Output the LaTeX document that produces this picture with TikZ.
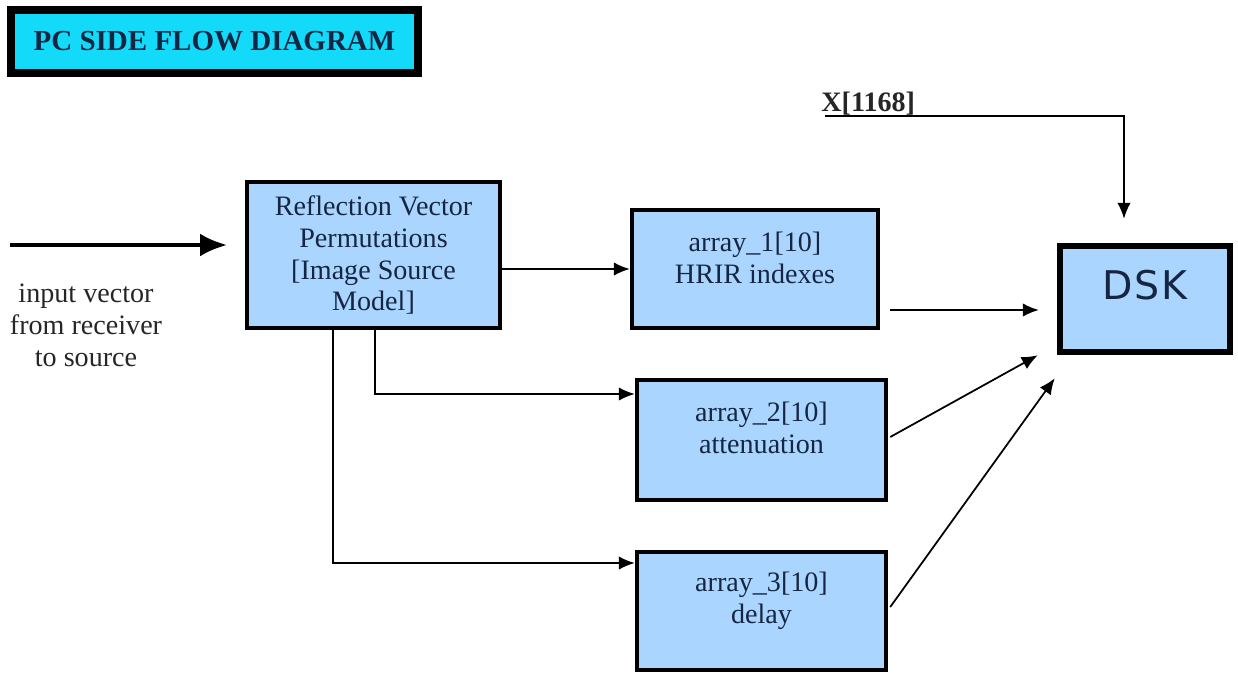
\documentclass[tikz,border=0pt]{standalone}
\usepackage{fontspec}
\setmainfont{Liberation Serif}
\newfontfamily\dskfont[LetterSpace=4]{DejaVu Sans}
\usetikzlibrary{arrows.meta}
\definecolor{boxblue}{RGB}{170,213,255}
\definecolor{titlecyan}{RGB}{20,218,250}
\definecolor{inkblue}{RGB}{22,38,66}

\begin{document}
\begin{tikzpicture}[x=0.02cm,y=-0.02cm,
  blockbox/.style={draw=black,fill=boxblue,line width=0.09cm,align=center,
    text=inkblue,font=\fontsize{16}{18.2}\selectfont,inner sep=0pt},
  thinarrow/.style={-{Latex[length=0.32cm,width=0.27cm]},line width=0.035cm},
  plaintext/.style={align=center,text=black!85,font=\fontsize{16}{18.2}\selectfont}
]
\useasboundingbox (0,0) rectangle (1238,673);

% title
\node[draw=black,fill=titlecyan,line width=0.16cm,minimum width=8.14cm,minimum height=1.26cm,
  text=inkblue,font=\fontsize{16.5}{20}\selectfont\bfseries] (title) at (214.5,41.5) {PC SIDE FLOW DIAGRAM};

% blocks
\node[blockbox,line width=0.08cm,minimum width=5.06cm,minimum height=2.92cm] (refl) at (373.5,255)
  {Reflection Vector\\Permutations\\{}[Image Source\\Model]};
\node[blockbox,minimum width=4.92cm,minimum height=2.36cm] (arr1) at (755,269)
  {array\_1[10]\\HRIR indexes\\[-5.6pt]\mbox{}};
\node[blockbox,minimum width=4.98cm,minimum height=2.4cm] (arr2) at (761.5,440)
  {array\_2[10]\\attenuation\\[-4pt]\mbox{}};
\node[blockbox,minimum width=4.98cm,minimum height=2.36cm] (arr3) at (761.5,611)
  {array\_3[10]\\delay\\[-3pt]\mbox{}};
\node[blockbox,line width=0.13cm,minimum width=3.4cm,minimum height=2.12cm,
  font=\dskfont\fontsize{22.5}{26}\selectfont] (dsk) at (1145,299) {DSK\\[-10pt]\mbox{}};

% input
\coordinate (src) at (10,245);
\draw[line width=0.08cm,-{Latex[length=0.54cm,width=0.46cm]},shorten >=0.36cm] (src) -- (src -| refl.west);
\node[plaintext] (inlbl) at (86,325) {input vector\\from receiver\\to source};

% block links
\draw[thinarrow] (arr1.west -| refl.east) -- (arr1.west);
\draw[thinarrow] ([xshift=0.03cm]refl.south) |- ([yshift=0.92cm]arr2.west);
\draw[thinarrow] ([xshift=-0.81cm]refl.south) |- ([yshift=0.96cm]arr3.west);

% into the DSK
\draw[thinarrow] ([xshift=0.2cm,yshift=-0.82cm]arr1.east) -- ([xshift=-0.36cm,yshift=-0.22cm]dsk.west);
\draw[thinarrow] ([xshift=0.04cm,yshift=0.06cm]arr2.east) -- ([xshift=-0.38cm]dsk.south west);
\draw[thinarrow] ([xshift=0.04cm,yshift=0.08cm]arr3.east) -- ([xshift=-0.04cm,yshift=-0.46cm]dsk.south west);

\node[font=\fontsize{16}{18}\selectfont\bfseries,text=black!85,inner sep=0pt,anchor=base west] (xlab) at (821,111) {X[1168]};
\draw[thinarrow] ([xshift=0.08cm,yshift=-0.1cm]xlab.base west) -| ([xshift=-0.42cm,yshift=0.48cm]dsk.north);
\end{tikzpicture}
\end{document}
